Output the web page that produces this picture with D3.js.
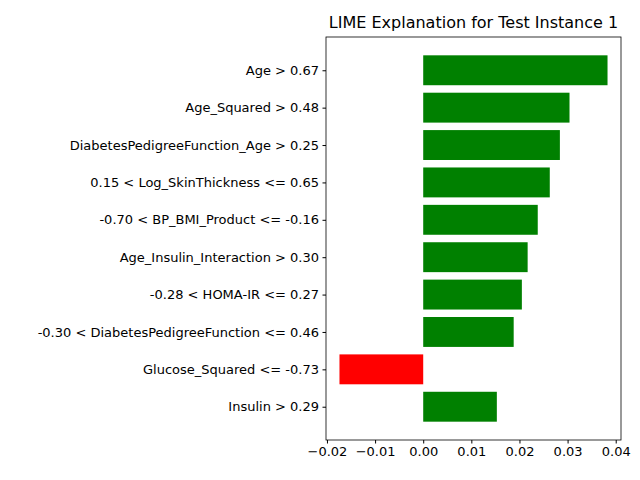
<!DOCTYPE html>
<html><head><meta charset="utf-8">
<script src="https://cdn.jsdelivr.net/npm/d3@7"></script>
<style>body{margin:0;background:#fff}text{font-family:"DejaVu Sans",sans-serif}</style>
</head><body>
<svg id="chart" width="640" height="480"></svg>
<script>
// features listed top to bottom
var features = ["Age > 0.67", "Age_Squared > 0.48", "DiabetesPedigreeFunction_Age > 0.25",
  "0.15 < Log_SkinThickness <= 0.65", "-0.70 < BP_BMI_Product <= -0.16",
  "Age_Insulin_Interaction > 0.30", "-0.28 < HOMA-IR <= 0.27",
  "-0.30 < DiabetesPedigreeFunction <= 0.46", "Glucose_Squared <= -0.73", "Insulin > 0.29"];
var weights = [0.0383, 0.0304, 0.0284, 0.0263, 0.0238, 0.0217, 0.0205, 0.0188, -0.0174, 0.0153];
var xTicks = [-0.02, -0.01, 0.00, 0.01, 0.02, 0.03, 0.04];

var svg = d3.select("#chart");
var plotL = 326, plotR = 621, plotT = 37, plotB = 440;

var x = d3.scaleLinear().domain([-0.0202, 0.0411]).range([plotL, plotR]);
// index 0 at top, matplotlib-style 5% margins
var y = d3.scaleLinear().domain([-0.89, 9.89]).range([plotT, plotB]);
var unit = y(1) - y(0);

svg.selectAll("rect.bar").data(weights).enter().append("rect")
  .attr("class", "bar")
  .attr("x", d => x(Math.min(0, d)))
  .attr("width", d => Math.abs(x(d) - x(0)))
  .attr("y", (d, i) => y(i) - unit * 0.4)
  .attr("height", unit * 0.8)
  .attr("fill", d => d > 0 ? "green" : "red");

var xAxis = svg.append("g").attr("transform", `translate(0,${plotB})`)
  .call(d3.axisBottom(x).tickValues(xTicks).tickSize(3.5).tickPadding(3.5));
xAxis.select(".domain").remove();
xAxis.selectAll("text").attr("font-size", 13).attr("font-family", "DejaVu Sans").attr("fill", "#000")
  .text(d => (d < 0 ? "\u22120" : "0") + d3.format(".2f")(Math.abs(d)).slice(1));

var yAxis = svg.append("g").attr("transform", `translate(${plotL},0)`)
  .call(d3.axisLeft(y).tickValues(d3.range(features.length)).tickFormat(i => features[i]).tickSize(3.5).tickPadding(3.5));
yAxis.select(".domain").remove();
yAxis.selectAll("text").attr("font-size", 13).attr("font-family", "DejaVu Sans").attr("fill", "#000");

svg.append("rect").attr("x", plotL).attr("y", plotT).attr("width", plotR - plotL).attr("height", plotB - plotT)
  .attr("fill", "none").attr("stroke", "#000").attr("stroke-width", 0.8);

svg.append("text").attr("x", (plotL + plotR) / 2).attr("y", plotT - 9)
  .attr("text-anchor", "middle").attr("font-size", 16).text("LIME Explanation for Test Instance 1");
</script>
</body></html>
